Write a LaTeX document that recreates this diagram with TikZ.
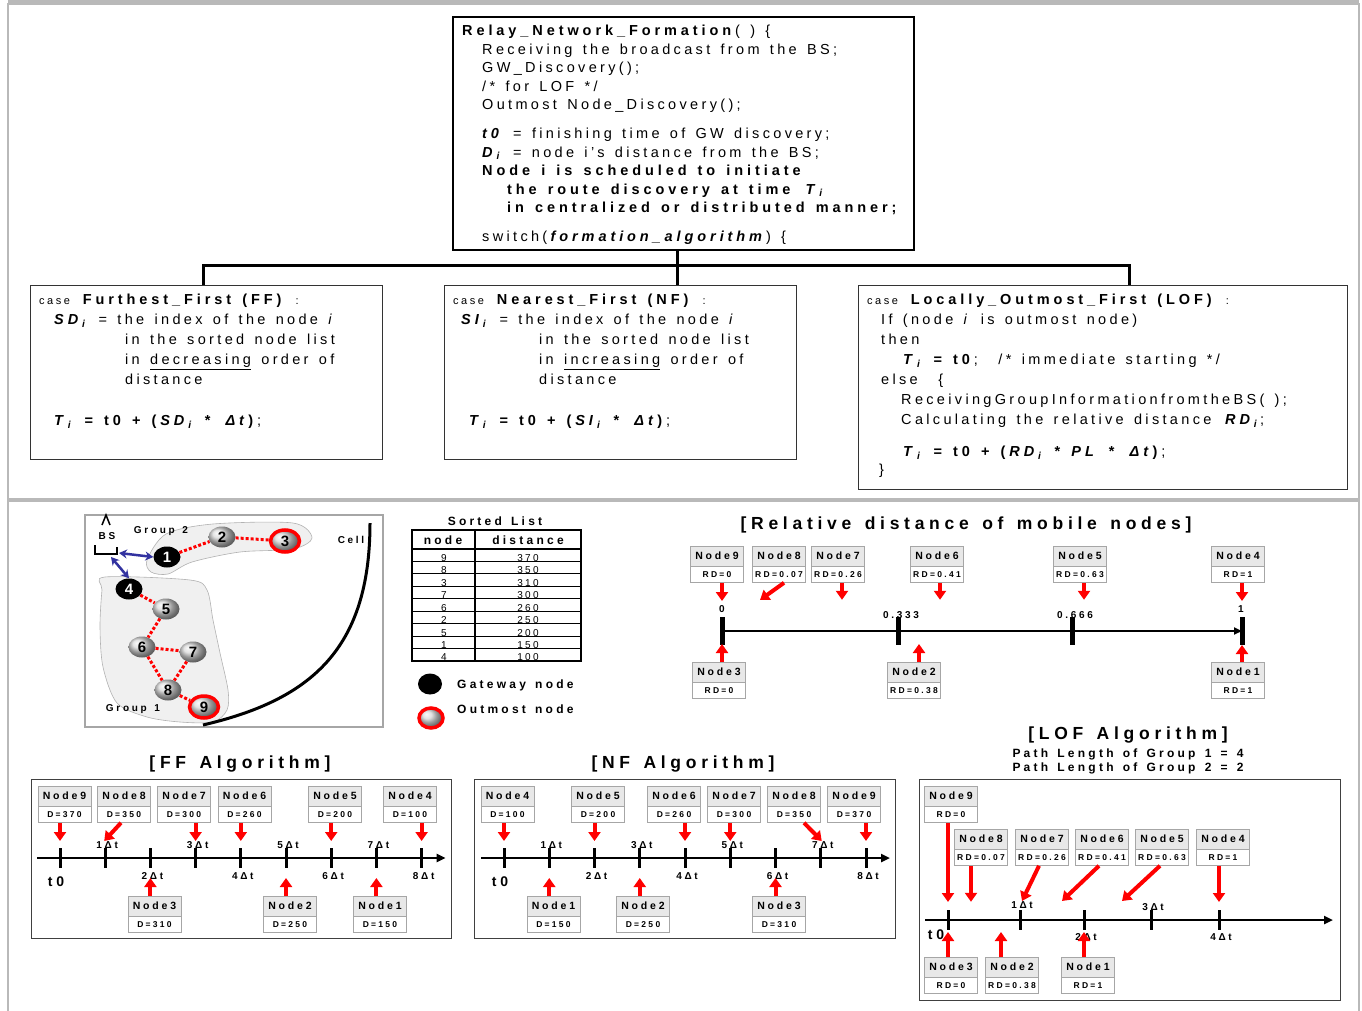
\documentclass[tikz,border=0pt]{standalone}
\usepackage{fontspec}
\setmainfont{Liberation Sans}[LetterSpace=23, WordSpace=1.4,
  BoldFeatures={LetterSpace=27}, BoldItalicFeatures={LetterSpace=27}]
\usetikzlibrary{positioning,calc,arrows.meta,shapes.geometric}

\definecolor{bslink}{RGB}{50,50,160}
\newcommand{\bsub}[2]{\textbf{\textit{#1}}\textsubscript{\textbf{\textit{#2}}}}
\newcommand{\ddt}{\textbf{\textit{Δt}}}
% two-part box: gray head with the name, white part with the value
\newcommand{\nodebox}[4]{%
  \node[nhead] (#1) at (#2) {#3};
  \node[nval, below=0pt of #1] (#1v) {#4};}

\tikzset{
  codebox/.style={draw, line width=2pt, inner sep=0pt},
  casebox/.style={draw=black!80, line width=1pt, inner sep=0pt},
  codetxt/.style={anchor=north west, align=left, inner sep=0pt, font=\fontsize{14.5}{20}\selectfont},
  branch/.style={line width=3pt},
  nhead/.style={draw=gray!70, fill=gray!18, anchor=north, minimum width=53pt, minimum height=20pt, inner sep=0pt, font=\bfseries\fontsize{10.5}{10.5}\selectfont},
  nval/.style={draw=gray!70, fill=white, minimum width=53pt, minimum height=16pt, inner sep=0pt, font=\bfseries\fontsize{8.5}{8.5}\selectfont\addfontfeature{LetterSpace=35}},
  redarrow/.style={red, line width=4pt, -{Triangle[width=12pt,length=9pt]}},
  timeaxis/.style={line width=2.5pt, -{Triangle[width=8pt,length=9pt]}},
  tickmark/.style={line width=3pt},
  ticklbl/.style={font=\bfseries\fontsize{10}{10}\selectfont, inner sep=0pt},
  algobox/.style={draw=black!75, line width=1pt},
  sectitle/.style={font=\bfseries\fontsize{17.5}{17.5}\selectfont, inner sep=0pt},
  gnode/.style={ellipse, minimum width=27pt, minimum height=21pt, inner sep=0pt, shading=ball, ball color=gray!30, font=\bfseries\fontsize{15}{15}\selectfont},
  gwnode/.style={ellipse, minimum width=27pt, minimum height=21pt, inner sep=0pt, fill=black, text=white, font=\bfseries\fontsize{15}{15}\selectfont},
  outnode/.style={gnode, minimum width=29pt, minimum height=22pt, draw=red, line width=3.5pt},
  grouplink/.style={red, line width=3pt, dash pattern=on 3pt off 2pt},
  bsarrow/.style={bslink, line width=2.5pt, {Stealth[length=8pt,width=9pt]}-{Stealth[length=8pt,width=9pt]}},
  blob/.style={fill=gray!12, draw=gray!60, line width=0.6pt},
  smalllbl/.style={font=\bfseries\fontsize{10}{10}\selectfont, inner sep=0pt},
}

\begin{document}
\begin{tikzpicture}[x=1pt,y=-1pt]
  \fill[white] (0,0) rectangle (1362,1011);
  \useasboundingbox (0,0) rectangle (1362,1011);
  %% outer frame and divider
  \draw[gray!55, line width=2pt] (8,1011) -- (8,4) -- (1359,4) -- (1359,1011);
  \draw[gray!55, line width=5pt] (8,3) -- (1359,3);
  \draw[gray!55, line width=4pt] (8,500) -- (1359,500);

  %% main procedure
  \node[codebox, anchor=north west, minimum width=461pt, minimum height=233pt] (rnf) at (452,16) {};
  \node[codetxt, font=\fontsize{14.5}{18.5}\selectfont] (rnftxt) at (462,25) {%
    \textbf{Relay\_Network\_Formation}( ) \{\\
    \hspace*{20pt}Receiving the broadcast from the BS;\\
    \hspace*{20pt}GW\_Discovery();\\
    \hspace*{20pt}/* for LOF */\\
    \hspace*{20pt}Outmost Node\_Discovery();\\[10.5pt]
    \hspace*{20pt}\textbf{\textit{t0}} = finishing time of GW discovery;\\
    \hspace*{20pt}\bsub{D}{i} = node i’s distance from the BS;\\
    \hspace*{20pt}\textbf{Node i is scheduled to initiate}\\
    \hspace*{45pt}\textbf{the route discovery at time \bsub{T}{i}}\\
    \hspace*{45pt}\textbf{in centralized or distributed manner;}\\[10.5pt]
    \hspace*{20pt}switch(\textbf{\textit{formation\_algorithm}}) \{};

  %% the three cases
  \node[casebox, anchor=north west, minimum width=352pt, minimum height=174pt] (ffc) at (30,285) {};
  \node[casebox, anchor=north west, minimum width=352pt, minimum height=174pt] (nfc) at (444,285) {};
  \node[casebox, anchor=north west, minimum width=489pt, minimum height=204pt] (lofc) at (858,285) {};
  \coordinate (brl) at (203,265);
  \coordinate (brm) at (677,265);
  \coordinate (brr) at (1129,265);
  \draw[branch] (brl |- ffc.north) -- (brl) -- (brr) -- (brr |- lofc.north);
  \draw[branch] (brm |- rnf.south) -- (brm |- nfc.north);

  \node[codetxt] (fftxt) at (39,294) {%
    {\fontsize{11}{11}\selectfont case} \textbf{Furthest\_First (FF)} {\fontsize{11}{11}\selectfont :}\\
    \hspace*{15pt}\bsub{SD}{i} = the index of the node \textit{i}\\
    \hspace*{86pt}in the sorted node list\\
    \hspace*{86pt}in \underline{decreasing} order of\\
    \hspace*{86pt}distance\\[21pt]
    \hspace*{15pt}\bsub{T}{i} \textbf{= t0 + (}\bsub{SD}{i} \textbf{* }\ddt\textbf{)};};
  \node[codetxt] (nftxt) at (453,294) {%
    {\fontsize{11}{11}\selectfont case} \textbf{Nearest\_First (NF)} {\fontsize{11}{11}\selectfont :}\\
    \hspace*{8pt}\bsub{SI}{i} = the index of the node \textit{i}\\
    \hspace*{86pt}in the sorted node list\\
    \hspace*{86pt}in \underline{increasing} order of\\
    \hspace*{86pt}distance\\[21pt]
    \hspace*{16pt}\bsub{T}{i} \textbf{= t0 + (}\bsub{SI}{i} \textbf{* }\ddt\textbf{)};};
  \node[codetxt] (loftxt) at (867,294) {%
    {\fontsize{11}{11}\selectfont case} \textbf{Locally\_Outmost\_First (LOF)} {\fontsize{11}{11}\selectfont :}\\
    \hspace*{14pt}If (node \textit{i} is outmost node)\\
    \hspace*{14pt}then\\
    \hspace*{36pt}\bsub{T}{i} \textbf{= t0}; \ /* immediate starting */\\
    \hspace*{14pt}else \ \{\\
    \hspace*{34pt}ReceivingGroupInformationfromtheBS( );\\
    \hspace*{34pt}Calculating the relative distance \bsub{RD}{i};\\[12pt]
    \hspace*{36pt}\bsub{T}{i} \textbf{= t0 + (}\bsub{RD}{i} \textbf{* \textit{PL} * }\ddt \textbf{)};\\[-2pt]
    \hspace*{12pt}\}};

  %% cell with the two groups
  \draw[gray!70, line width=2pt] (85,515) rectangle (383,727);
  \draw[blob] plot[smooth cycle] coordinates {(147,560) (166,534) (213,524) (293,523) (312,538) (293,549) (240,552) (192,562) (168,574) (151,572)};
  \draw[blob] plot[smooth cycle] coordinates {(105,577) (190,580) (207,590) (213,620) (220,653) (228,690) (227,710) (213,722) (180,722) (147,717) (117,703) (103,667) (100,627) (102,590)};
  \draw[line width=3pt] (370,523) .. controls (370,650) and (310,700) .. (203,725);
  \draw[line width=1.5pt] (102,525) -- (106,515) -- (110,525);
  \draw[line width=2pt] (95,545) -- (95,554) -- (117,554) -- (117,547);
  \coordinate (bsr) at (119,553);
  \coordinate (bsb) at (111,557);
  \node[smalllbl] (bslbl) at (107,536) {BS};
  \node[smalllbl] (grp2) at (161,531) {Group 2};
  \node[smalllbl] (grp1) at (133,709) {Group 1};
  \node[smalllbl] (celllbl) at (351,540) {Cell};
  \node[gwnode] (g1) at (167,557) {1};
  \node[gnode] (g2) at (222,537) {2};
  \node[outnode] (g3) at (285,541) {3};
  \node[gwnode] (g4) at (129,589) {4};
  \node[gnode] (g5) at (166,609) {5};
  \node[gnode] (g6) at (142,647) {6};
  \node[gnode] (g7) at (193,652) {7};
  \node[gnode] (g8) at (168,690) {8};
  \node[outnode] (g9) at (204,707) {9};
  \foreach \a/\b in {1/2,2/3,4/5,5/6,6/7,6/8,7/8,8/9}
    \draw[grouplink] (g\a) -- (g\b);
  \draw[bsarrow] (bsr) -- (g1.west);
  \draw[bsarrow] (bsb) -- (g4.north);

  %% sorted list
  \node[font=\bfseries\fontsize{12}{12}\selectfont] (sl) at (495,521) {Sorted List};
  \draw[line width=1.5pt] (412,530) rectangle (581,661);
  \draw[line width=1.5pt] (412,549) -- (581,549);
  \draw[line width=1.2pt] (475,530) -- (475,661);
  \node[font=\bfseries\fontsize{12}{12}\selectfont] at (443,540) {node};
  \node[font=\bfseries\fontsize{12}{12}\selectfont] at (528,540) {distance};
  \foreach \nd/\dist [count=\k] in {9/370,8/350,3/310,7/300,6/260,2/250,5/200,1/150,4/100} {
    \draw[line width=1pt] (412,{549+12.44*\k}) -- (581,{549+12.44*\k});
    \node[font=\fontsize{10}{10}\selectfont, anchor=base, inner sep=0pt] at (444,{549+12.44*\k}) {\nd};
    \node[font=\fontsize{10}{10}\selectfont, anchor=base, inner sep=0pt] at (528,{549+12.44*\k}) {\dist};
  }
  \node[gwnode, minimum width=24pt, minimum height=21pt] (lgw) at (430,684) {};
  \node[outnode, minimum width=24pt, minimum height=20pt] (lout) at (431,718) {};
  \node[anchor=west, inner sep=0pt, font=\bfseries\fontsize{12}{12}\selectfont] at (457,685) {Gateway node};
  \node[anchor=west, inner sep=0pt, font=\bfseries\fontsize{12}{12}\selectfont] at (457,709) {Outmost node};

  %% relative distance
  \node[sectitle] at (966,525) {[Relative distance of mobile nodes]};
  \foreach \k/\x in {0/722,1/898,2/1072,3/1242}
    \coordinate (rd\k) at (\x,631);
  \draw[line width=2pt, -{Triangle[width=7pt,length=8pt]}] (rd0) -- (rd3);
  \foreach \k in {0,...,3}
    \draw[line width=5pt] ($(rd\k)+(0,-14)$) -- ($(rd\k)+(0,14)$);
  \node[ticklbl] at ($(rd0)+(0,-22)$) {0};
  \node[ticklbl] at ($(rd1)+(3,-16)$) {0.333};
  \node[ticklbl] at ($(rd2)+(3,-16)$) {0.666};
  \node[ticklbl] at ($(rd3)+(-1,-22)$) {1};
  \nodebox{rn9}{717,546}{Node9}{RD=0}
  \nodebox{rn8}{779,546}{Node8}{RD=0.07}
  \nodebox{rn7}{838,546}{Node7}{RD=0.26}
  \nodebox{rn6}{937,546}{Node6}{RD=0.41}
  \nodebox{rn5}{1080,546}{Node5}{RD=0.63}
  \nodebox{rn4}{1238,546}{Node4}{RD=1}
  \nodebox{rn3}{719,662}{Node3}{RD=0}
  \nodebox{rn2}{914,662}{Node2}{RD=0.38}
  \nodebox{rn1}{1238,662}{Node1}{RD=1}
  \draw[redarrow] (rn9v.south -| rd0) -- ($(rd0)+(0,-30)$);
  \draw[redarrow] ($(rn8v.south)+(5,0)$) -- ($(rd0)+(38,-31)$);
  \draw[redarrow] ($(rn7v.south)+(4,0)$) -- ++(0,17);
  \draw[redarrow] ($(rn6v.south)+(3,0)$) -- ++(0,17);
  \draw[redarrow] ($(rn5v.south)+(4,0)$) -- ++(0,17);
  \draw[redarrow] (rn4v.south -| rd3) -- ($(rd3)+(0,-30)$);
  \draw[redarrow] (rn3.north -| rd0) -- ($(rd0)+(0,13)$);
  \draw[redarrow] ($(rn2.north)+(5,0)$) -- ++(0,-18);
  \draw[redarrow] (rn1.north -| rd3) -- ($(rd3)+(0,14)$);

  %% FF algorithm
  \node[sectitle] at (240,764) {[FF Algorithm]};
  \draw[algobox] (31,779) rectangle (451,938);
  \foreach \k in {0,...,8}
    \coordinate (ff\k) at ({60+45.2*\k},858);
  \draw[timeaxis] ($(ff0)+(-23,0)$) -- ($(ff8)+(24,0)$);
  \foreach \k in {0,...,8}
    \draw[tickmark] ($(ff\k)+(0,-10)$) -- ($(ff\k)+(0,10)$);
  \foreach \k in {1,3,5,7}
    \node[ticklbl] at ($(ff\k)+(2,-13)$) {\k Δt};
  \foreach \k in {2,4,6,8}
    \node[ticklbl] at ($(ff\k)+(2,18)$) {\k Δt};
  \node[font=\bfseries\fontsize{14}{14}\selectfont] at ($(ff0)+(-4,24)$) {t0};
  \nodebox{fn9}{64.5,786}{Node9}{D=370}
  \nodebox{fn8}{124,786}{Node8}{D=350}
  \nodebox{fn7}{184,786}{Node7}{D=300}
  \nodebox{fn6}{244.5,786}{Node6}{D=260}
  \nodebox{fn5}{335,786}{Node5}{D=200}
  \nodebox{fn4}{410,786}{Node4}{D=100}
  \nodebox{fn3}{154.5,896}{Node3}{D=310}
  \nodebox{fn2}{290,896}{Node2}{D=250}
  \nodebox{fn1}{380,896}{Node1}{D=150}
  \draw[redarrow] (fn9v.south -| ff0) -- ($(ff0)+(0,-17)$);
  \draw[redarrow] ($(fn8v.south)+(-3,0)$) -- ($(ff1)+(-1,-17)$);
  \draw[redarrow] (fn7v.south -| ff3) -- ($(ff3)+(0,-17)$);
  \draw[redarrow] (fn6v.south -| ff4) -- ($(ff4)+(0,-17)$);
  \draw[redarrow] (fn5v.south -| ff6) -- ($(ff6)+(0,-17)$);
  \draw[redarrow] (fn4v.south -| ff8) -- ($(ff8)+(0,-17)$);
  \draw[redarrow] (fn3.north -| ff2) -- ($(ff2)+(0,20)$);
  \draw[redarrow] (fn2.north -| ff5) -- ($(ff5)+(0,20)$);
  \draw[redarrow] (fn1.north -| ff7) -- ($(ff7)+(0,20)$);

  %% NF algorithm
  \node[sectitle] at (683,764) {[NF Algorithm]};
  \draw[algobox] (474,779) rectangle (895,938);
  \foreach \k in {0,...,8}
    \coordinate (nf\k) at ({504+45.25*\k},858);
  \draw[timeaxis] ($(nf0)+(-23,0)$) -- ($(nf8)+(24,0)$);
  \foreach \k in {0,...,8}
    \draw[tickmark] ($(nf\k)+(0,-10)$) -- ($(nf\k)+(0,10)$);
  \foreach \k in {1,3,5,7}
    \node[ticklbl] at ($(nf\k)+(2,-13)$) {\k Δt};
  \foreach \k in {2,4,6,8}
    \node[ticklbl] at ($(nf\k)+(2,18)$) {\k Δt};
  \node[font=\bfseries\fontsize{14}{14}\selectfont] at ($(nf0)+(-4,24)$) {t0};
  \nodebox{nn4}{507.5,786}{Node4}{D=100}
  \nodebox{nn5}{598,786}{Node5}{D=200}
  \nodebox{nn6}{674,786}{Node6}{D=260}
  \nodebox{nn7}{734,786}{Node7}{D=300}
  \nodebox{nn8}{794,786}{Node8}{D=350}
  \nodebox{nn9}{854,786}{Node9}{D=370}
  \nodebox{nn1}{553.5,896}{Node1}{D=150}
  \nodebox{nn2}{643,896}{Node2}{D=250}
  \nodebox{nn3}{779,896}{Node3}{D=310}
  \draw[redarrow] (nn4v.south -| nf0) -- ($(nf0)+(0,-17)$);
  \draw[redarrow] (nn5v.south -| nf2) -- ($(nf2)+(0,-17)$);
  \draw[redarrow] (nn6v.south -| nf4) -- ($(nf4)+(0,-17)$);
  \draw[redarrow] (nn7v.south -| nf5) -- ($(nf5)+(0,-17)$);
  \draw[redarrow] ($(nn8v.south)+(10,0)$) -- ($(nf7)+(1,-17)$);
  \draw[redarrow] (nn9v.south -| nf8) -- ($(nf8)+(0,-17)$);
  \draw[redarrow] (nn1.north -| nf1) -- ($(nf1)+(0,20)$);
  \draw[redarrow] (nn2.north -| nf3) -- ($(nf3)+(0,20)$);
  \draw[redarrow] (nn3.north -| nf6) -- ($(nf6)+(0,20)$);

  %% LOF algorithm
  \node[sectitle] at (1128,735) {[LOF Algorithm]};
  \node[font=\bfseries\fontsize{12}{12}\selectfont] at (1128,754) {Path Length of Group 1 = 4};
  \node[font=\bfseries\fontsize{12}{12}\selectfont] at (1128,768) {Path Length of Group 2 = 2};
  \draw[algobox] (919,779) rectangle (1340,1000);
  \foreach \k/\x in {0/948,1/1020,2/1084,3/1151,4/1219}
    \coordinate (lf\k) at (\x,920);
  \draw[timeaxis] ($(lf0)+(-23,0)$) -- ($(lf4)+(114,0)$);
  \foreach \k in {0,...,4}
    \draw[tickmark] ($(lf\k)+(0,-10)$) -- ($(lf\k)+(0,10)$);
  \node[ticklbl] at ($(lf1)+(2,-15)$) {1Δt};
  \node[ticklbl] at ($(lf3)+(2,-13)$) {3Δt};
  \node[ticklbl] at ($(lf2)+(2,17)$) {2Δt};
  \node[ticklbl] at ($(lf4)+(2,17)$) {4Δt};
  \node[font=\bfseries\fontsize{14}{14}\selectfont] at ($(lf0)+(-12,15)$) {t0};
  \nodebox{ln9}{951,786}{Node9}{RD=0}
  \nodebox{ln8}{981,829}{Node8}{RD=0.07}
  \nodebox{ln7}{1042,829}{Node7}{RD=0.26}
  \nodebox{ln6}{1102,829}{Node6}{RD=0.41}
  \nodebox{ln5}{1162,829}{Node5}{RD=0.63}
  \nodebox{ln4}{1223,829}{Node4}{RD=1}
  \nodebox{ln3}{951,957}{Node3}{RD=0}
  \nodebox{ln2}{1012,957}{Node2}{RD=0.38}
  \nodebox{ln1}{1088,957}{Node1}{RD=1}
  \draw[redarrow] (ln9v.south -| lf0) -- ($(lf0)+(0,-18)$);
  \draw[redarrow] ($(ln8v.south)+(-10,0)$) -- ++(0,36);
  \draw[redarrow] ($(ln7v.south)+(-3,0)$) -- ($(lf1)+(2,-19)$);
  \draw[redarrow] ($(ln6v.south)+(-3,0)$) -- ($(lf1)+(42,-19)$);
  \draw[redarrow] ($(ln5v.south)+(-2,0)$) -- ($(lf2)+(38,-19)$);
  \draw[redarrow] (ln4v.south -| lf4) -- ($(lf4)+(0,-18)$);
  \draw[redarrow] (ln3.north -| lf0) -- ($(lf0)+(0,12)$);
  \draw[redarrow] ($(ln2.north)+(-11,0)$) -- ++(0,-25);
  \draw[redarrow] (ln1.north -| lf2) -- ($(lf2)+(0,12)$);
\end{tikzpicture}
\end{document}
